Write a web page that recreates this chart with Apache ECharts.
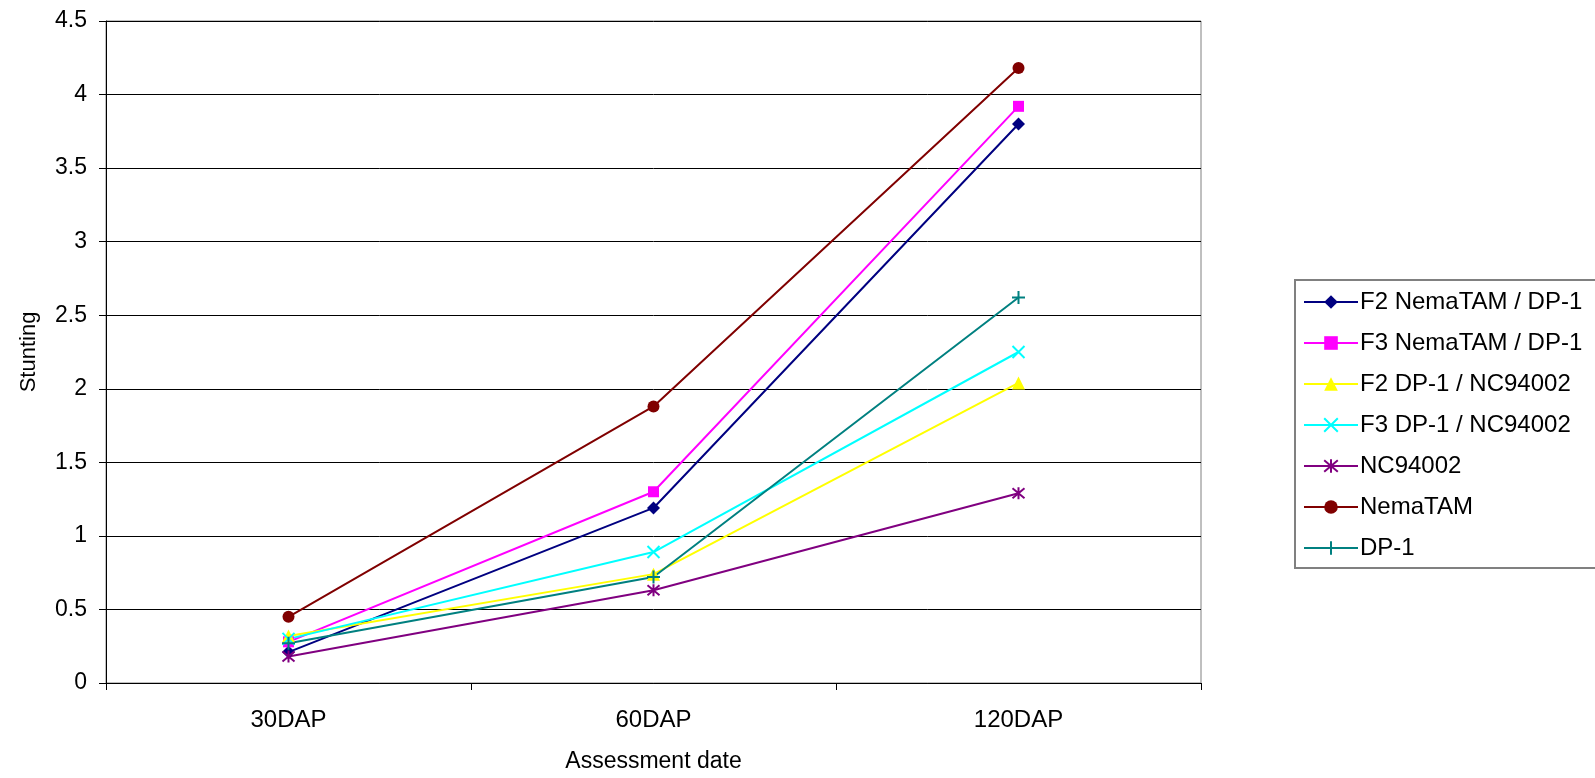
<!DOCTYPE html>
<html>
<head>
<meta charset="utf-8">
<script src="https://cdn.jsdelivr.net/npm/echarts@6/dist/echarts.min.js"></script>
<style>
  html, body { margin: 0; padding: 0; background: #fff; }
  #chart { width: 1595px; height: 778px; }
</style>
</head>
<body>
<div id="chart"></div>
<script>
// categories and values
var dates = ['30DAP', '60DAP', '120DAP']
var yTicks = [0, 0.5, 1, 1.5, 2, 2.5, 3, 3.5, 4, 4.5]

var f2NemaDp   = [0.21, 1.19, 3.80]
var f3NemaDp   = [0.28, 1.30, 3.92]
var f2DpNc     = [0.32, 0.74, 2.04]
var f3DpNc     = [0.30, 0.89, 2.25]
var nc94002    = [0.18, 0.63, 1.29]
var nemaTam    = [0.45, 1.88, 4.18]
var dp1        = [0.27, 0.72, 2.62]

var names = ['F2 NemaTAM / DP-1', 'F3 NemaTAM / DP-1', 'F2 DP-1 / NC94002', 'F3 DP-1 / NC94002', 'NC94002', 'NemaTAM', 'DP-1']

// marker shapes that echarts has no name for
var xMark    = 'path://M0,0L10,10M10,0L0,10'
var starMark = 'path://M0,0L10,10M10,0L0,10M5,-1L5,11'
var plusMark = 'path://M5,0L5,10M0,5L10,5'

function line (name, data, color, symbol, size, stroked) {
    return {
        name: name, type: 'line', data: data,
        symbol: symbol, symbolSize: size,
        lineStyle: { color: color, width: 2 },
        itemStyle: stroked
            ? { color: color, borderColor: color, borderWidth: 2 }
            : { color: color, borderWidth: 0 },
        z: 3
    }
}

var chart = echarts.init(document.getElementById('chart'))
var option = {
    animation: false,
    textStyle: { fontFamily: 'Liberation Sans, Arial, sans-serif', color: '#000' },
    grid: { left: 106, right: 394, top: 21, bottom: 91, show: true, borderColor: '#808080', borderWidth: 1 },
    legend: {
        orient: 'vertical',
        left: 1295, top: 280,
        itemWidth: 54, itemHeight: 17, itemGap: 17,
        padding: [10, 40, 8, 8],
        borderColor: '#808080', borderWidth: 2,
        textStyle: { fontSize: 24, color: '#000', padding: [0, 0, 0, -3] },
        data: names
    },
    xAxis: {
        type: 'category', data: dates, boundaryGap: true,
        name: 'Assessment date', nameLocation: 'middle', nameGap: 67,
        nameTextStyle: { fontSize: 23, color: '#000' },
        axisLine: { lineStyle: { color: '#000', width: 1 } },
        axisTick: { show: true, length: 7, lineStyle: { color: '#000' } },
        axisLabel: { fontSize: 24, color: '#000', margin: 25 }
    },
    yAxis: {
        type: 'value', min: yTicks[0], max: yTicks[yTicks.length - 1], interval: 0.5,
        name: 'Stunting', nameLocation: 'middle', nameGap: 66,
        nameTextStyle: { fontSize: 22, color: '#000' },
        axisLine: { show: true, lineStyle: { color: '#000', width: 1 } },
        axisTick: { show: true, length: 7, lineStyle: { color: '#000' } },
        axisLabel: { fontSize: 23, color: '#000', margin: 19 },
        splitLine: { lineStyle: { color: '#000', width: 1 } }
    },
    series: [
        line(names[0], f2NemaDp, '#000080', 'diamond', 13, false),
        line(names[1], f3NemaDp, '#FF00FF', 'rect', 11, false),
        line(names[2], f2DpNc, '#FFFF00', 'triangle', 13, false),
        line(names[3], f3DpNc, '#00FFFF', xMark, 12, true),
        line(names[4], nc94002, '#800080', starMark, 12, true),
        line(names[5], nemaTam, '#800000', 'circle', 12, false),
        line(names[6], dp1, '#008080', plusMark, 13, true)
    ]
}
chart.setOption(option)
</script>
</body>
</html>
